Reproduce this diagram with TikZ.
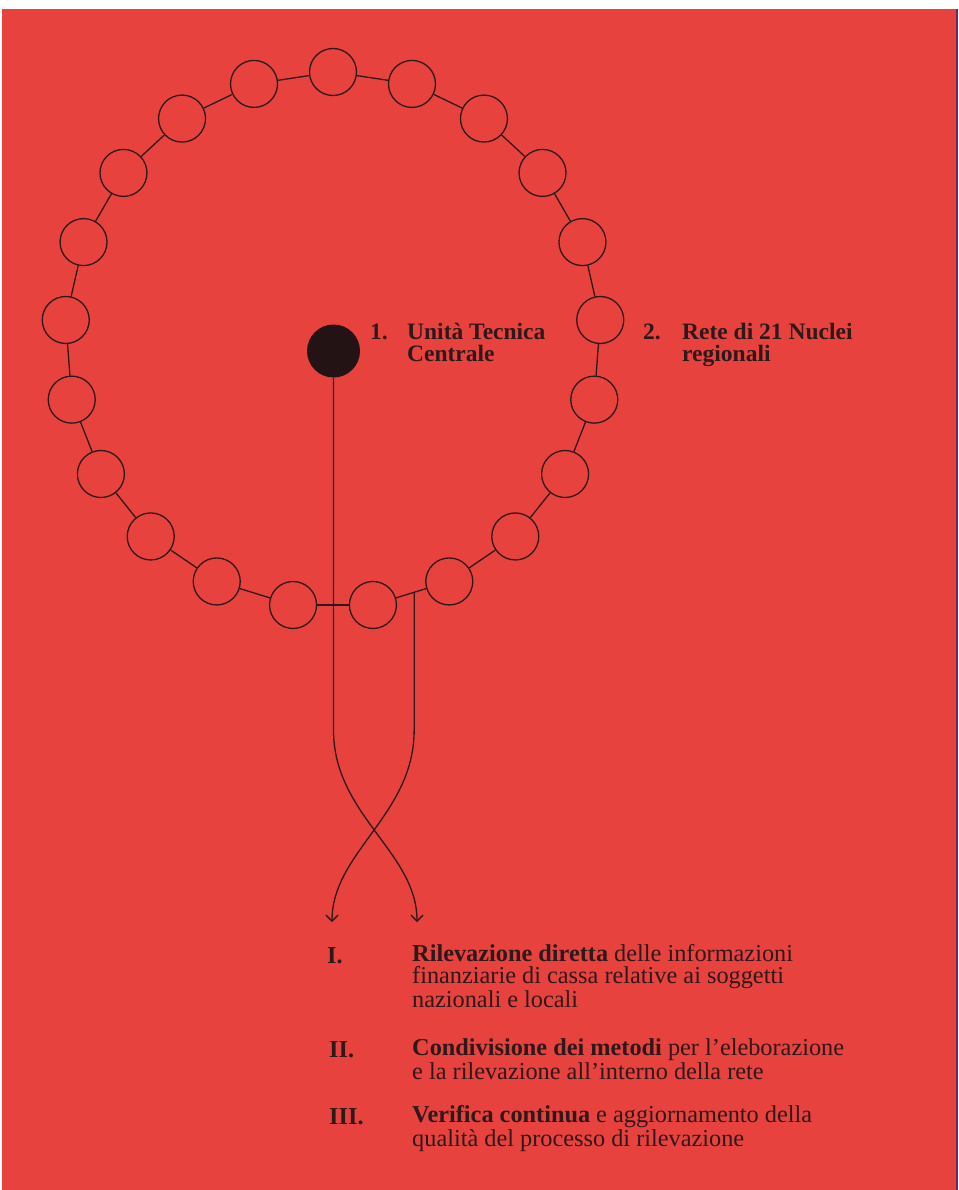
\documentclass[tikz,border=0pt]{standalone}
\usepackage{fontspec}
\setmainfont{Liberation Serif}
\usetikzlibrary{arrows.meta,calc}
\definecolor{bgred}{RGB}{232,66,62}
\definecolor{inkdark}{RGB}{45,24,26}
\definecolor{edgeviolet}{RGB}{110,40,90}

\begin{document}
\begin{tikzpicture}[x=1pt,y=-1pt,
  bead/.style={circle,draw=inkdark,line width=1.3pt,minimum size=47pt,inner sep=0pt},
  link/.style={draw=inkdark,line width=1.3pt},
  hub/.style={circle,fill=inkdark!80!black,minimum size=53pt,inner sep=0pt},
  lbl/.style={anchor=base west,inner sep=0pt,align=left,text=inkdark,
              font=\fontsize{23.5}{22}\selectfont\bfseries},
  txt/.style={anchor=base west,inner sep=0pt,align=left,text=inkdark,
              font=\fontsize{24.3}{22}\selectfont},
  flow/.style={draw=inkdark,line width=1.3pt,-{Straight Barb[length=6pt,width=12pt]}}
]
\fill[white] (0,0) rectangle (958,1190);
\fill[bgred] (2,9) rectangle (956,1190);
\fill[edgeviolet] (956,9) rectangle (958,1190);
% ring of the 21 regional units
\foreach \k in {0,...,20}
  \node[bead] (b\k) at ({333+268*sin(\k*360/21)},{340-268*cos(\k*360/21)}) {};
\foreach \k [evaluate=\k as \j using {int(mod(\k+1,21))}] in {0,...,20}
  \draw[link] (b\k) -- (b\j);
\node[hub] (utc) at (333.5,351) {};
% base = last line
\node[lbl] (num1) at (370,339) {1.};
\node[lbl] (utclbl) at (407,361) {Unità Tecnica\\Centrale};
\node[lbl] (num2) at (643,339) {2.};
\node[lbl] (netlbl) at (682,361) {Rete di 21 Nuclei\\regionali};
% crossing flows
\coordinate (netout) at ($(b10)!0.54!(b9)$);
\coordinate (bendL) at (333.5,730);
\coordinate (bendR) at (netout |- bendL);
\coordinate (tipL) at (332,922);
\coordinate (tipR) at (417,922);
\draw[flow] (utc) -- (bendL) .. controls +(0,85) and +(0,-70) .. (tipR);
\draw[flow] (netout) -- (bendR) .. controls +(0,85) and +(0,-70) .. (tipL);
% activities
\node[txt] (num3) at (327,963) {\textbf{I.}};
\node[txt] (act1) at (412,1007) {\textbf{Rilevazione diretta} delle informazioni\\finanziarie di cassa relative ai soggetti\\nazionali e locali};
\node[txt] (num4) at (329,1057) {\textbf{II.}};
\node[txt] (act2) at (412,1079) {\textbf{Condivisione dei metodi} per l’eleborazione\\e la rilevazione all’interno della rete};
\node[txt] (num5) at (329,1124) {\textbf{III.}};
\node[txt] (act3) at (412,1146) {\textbf{Verifica continua} e aggiornamento della\\qualità del processo di rilevazione};
\end{tikzpicture}
\end{document}
